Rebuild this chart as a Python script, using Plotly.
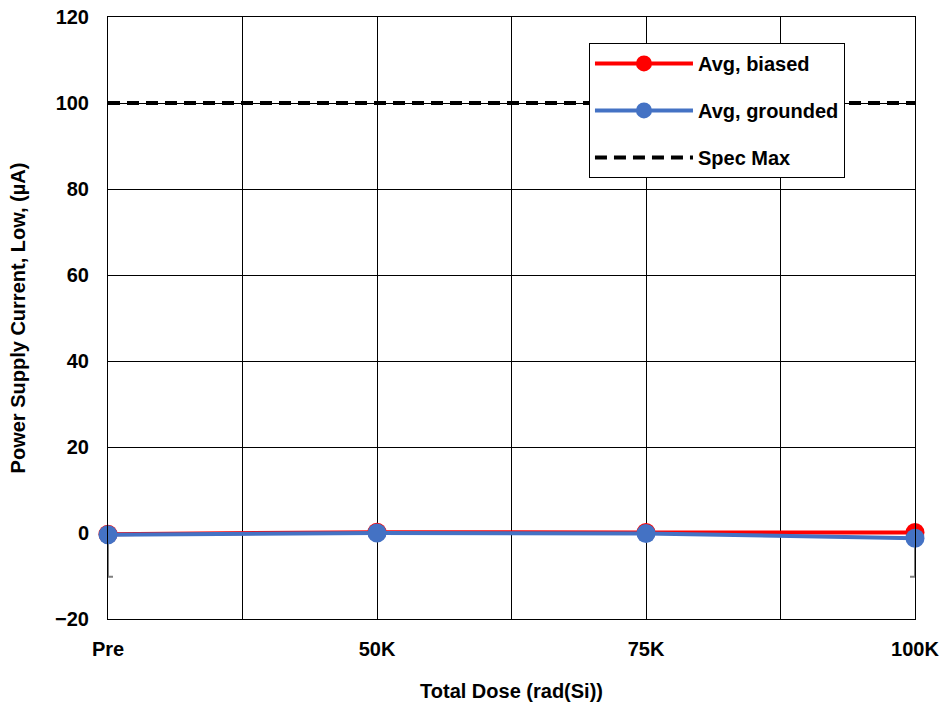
import plotly.graph_objects as go

categories = ["Pre", "50K", "75K", "100K"]
x_pos = [0, 1, 2, 3]
avg_biased = [-0.3, 0.2, 0.1, 0.1]
avg_grounded = [-0.4, 0.0, -0.1, -1.2]
grounded_err_minus = [9.8, 0.0, 0.0, 9.0]
spec_max = [100, 100, 100, 100]

x_tickvals = [0, 0.5, 1, 1.5, 2, 2.5, 3]
x_ticktext = ["Pre", "", "50K", "", "75K", "", "100K"]
y_tickvals = [-20, 0, 20, 40, 60, 80, 100, 120]

FONT = "Liberation Sans, Arial, sans-serif"
FS = 20

fig = go.Figure()
fig.add_trace(go.Scatter(
    x=x_pos, y=spec_max, mode="lines", name="Spec Max",
    line=dict(color="black", width=4, dash="12px,7px"),
    legendgroup="c", legendrank=3, cliponaxis=False,
))
fig.add_trace(go.Scatter(
    x=x_pos, y=avg_biased, mode="lines+markers", name="Avg, biased",
    line=dict(color="#ff0000", width=4),
    marker=dict(color="#ff0000", size=19),
    legendgroup="a", legendrank=1, cliponaxis=False,
))
fig.add_trace(go.Scatter(
    x=x_pos, y=avg_grounded, mode="lines+markers", name="Avg, grounded",
    line=dict(color="#4472c4", width=4),
    marker=dict(color="#4472c4", size=19),
    error_y=dict(type="data", symmetric=False, array=[0, 0, 0, 0],
                 arrayminus=grounded_err_minus, color="#7f7f7f",
                 thickness=2, width=5),
    legendgroup="b", legendrank=2, cliponaxis=False,
))

fig.update_layout(
    width=941, height=702,
    margin=dict(l=108, r=26, t=17, b=83),
    paper_bgcolor="white", plot_bgcolor="white",
    font=dict(family=FONT, size=FS, color="black"),
    showlegend=True,
    legend=dict(
        x=0.596, y=0.957, xanchor="left", yanchor="top",
        bordercolor="black", borderwidth=1, bgcolor="white",
        font=dict(family=FONT, size=FS, color="black", weight="bold"),
        tracegroupgap=18,
        itemwidth=98,
    ),
    xaxis=dict(
        range=[0, 3], tickmode="array", tickvals=x_tickvals, ticktext=x_ticktext,
        showgrid=True, gridcolor="black", gridwidth=1,
        showline=True, linecolor="black", linewidth=1, mirror=True,
        zeroline=False, ticks="", automargin=False,
        tickfont=dict(family=FONT, size=FS, color="black", weight="bold"),
        ticklabelstandoff=12,
        title=dict(text="Total Dose (rad(Si))", standoff=28,
                   font=dict(family=FONT, size=FS, color="black", weight="bold")),
    ),
    yaxis=dict(
        range=[-20, 120], tickmode="array", tickvals=y_tickvals,
        showgrid=True, gridcolor="black", gridwidth=1,
        showline=True, linecolor="black", linewidth=1, mirror=True,
        zeroline=False, ticks="", automargin=False,
        tickfont=dict(family=FONT, size=FS, color="black", weight="bold"),
        ticklabelstandoff=14,
        title=dict(text="Power Supply Current, Low, (µA)", standoff=24,
                   font=dict(family=FONT, size=FS, color="black", weight="bold")),
    ),
)

fig.write_html(
    "out.html",
    config={"displayModeBar": False},
    post_script="document.body.style.margin='0px';document.body.style.overflow='hidden';",
)
